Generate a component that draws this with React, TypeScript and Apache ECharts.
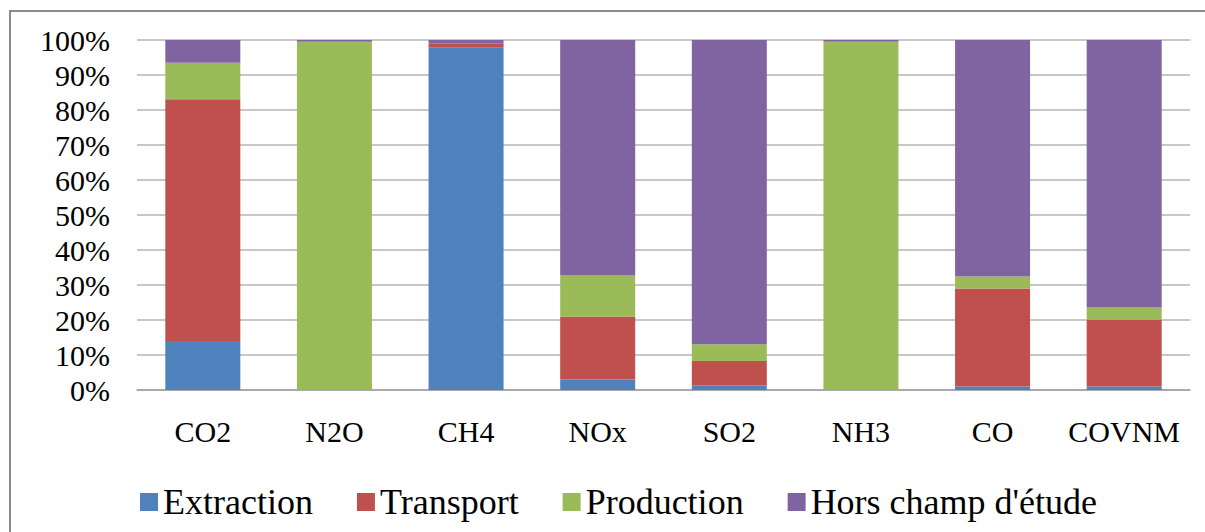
import React, { useEffect, useRef } from "react";
import * as echarts from "echarts";

const categories = ["CO2", "N2O", "CH4", "NOx", "SO2", "NH3", "CO", "COVNM"];
const seriesNames = ["Extraction", "Transport", "Production", "Hors champ d'étude"];
const extraction = [14, 0, 97.8, 3, 1.3, 0, 1, 1];
const transport = [69.1, 0, 1.1, 18, 7, 0, 28, 19];
const production = [10.4, 99.5, 0, 11.7, 4.8, 99.5, 3.4, 3.6];
const horsChamp = [6.5, 0.5, 1.1, 67.3, 86.9, 0.5, 67.6, 76.4];
const colors = ["#4F81BD", "#C0504D", "#9BBB59", "#8064A2"];

export default function App() {
  const ref = useRef<HTMLDivElement>(null);
  useEffect(() => {
    document.body.style.margin = "0";
    if (!ref.current) return;
    const chart = echarts.init(ref.current, null, { renderer: "svg" });
    const values = [extraction, transport, production, horsChamp];
    const font = "Liberation Serif";
    chart.setOption({
      animation: false,
      color: colors,
      textStyle: { fontFamily: font },
      graphic: [
        {
          type: "rect",
          shape: { x: 10, y: 11, width: 1220, height: 560 },
          style: { fill: "none", stroke: "#8a8a8a", lineWidth: 2 },
          silent: true,
        },
      ],
      grid: { left: 137, right: 15, top: 40, bottom: 142 },
      legend: {
        left: 135,
        top: 479,
        itemWidth: 18,
        itemHeight: 18,
        itemGap: 44,
        icon: "rect",
        textStyle: { fontFamily: font, fontSize: 36, color: "#000" },
        data: seriesNames,
      },
      xAxis: {
        type: "category",
        data: categories,
        axisLine: { lineStyle: { color: "#a0a0a0", width: 1.5 } },
        axisTick: { show: false },
        axisLabel: { interval: 0, fontFamily: font, fontSize: 30, color: "#000", margin: 26 },
      },
      yAxis: {
        type: "value",
        min: 0,
        max: 100,
        interval: 10,
        axisLine: { show: false },
        axisTick: { show: false },
        axisLabel: {
          fontFamily: font,
          fontSize: 30,
          color: "#000",
          margin: 27,
          formatter: "{value}%",
        },
        splitLine: { lineStyle: { color: "#b4b4b4", width: 1.5 } },
      },
      series: seriesNames.map((n, i) => ({
        name: n,
        type: "bar",
        stack: "total",
        barWidth: 75,
        data: values[i],
        itemStyle: { color: colors[i] },
      })),
    });
    return () => chart.dispose();
  }, []);
  return <div ref={ref} style={{ width: 1205, height: 532 }} />;
}
